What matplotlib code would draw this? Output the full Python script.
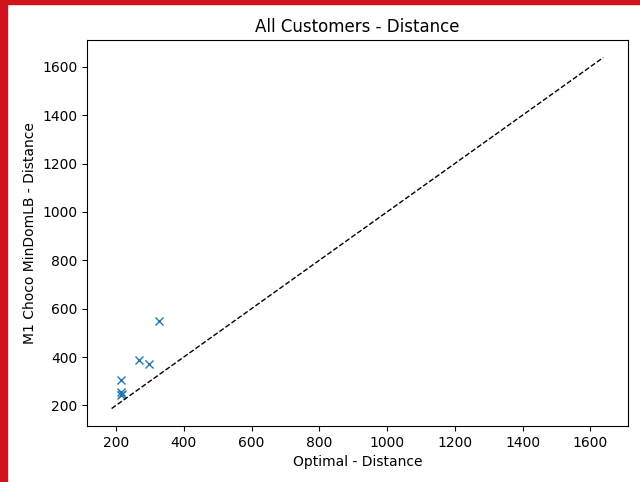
import matplotlib
matplotlib.use("Agg")
import matplotlib.pyplot as plt
from matplotlib.patches import Rectangle

# distances
optimal = [327, 268, 297, 215, 216, 217, 216]
choco = [547, 386, 373, 303, 254, 247, 241]
diag = [187, 1638]

fig = plt.figure(figsize=(6.4, 4.82), dpi=100)
ax = fig.add_axes([0.136, 0.116, 0.845, 0.801])

ax.plot(optimal, choco, 'x', color='tab:blue', markersize=6, markeredgewidth=1)
ax.plot(diag, diag, 'k--', linewidth=1)

ax.set_title("All Customers - Distance")
ax.set_xlabel("Optimal - Distance")
ax.set_ylabel("M1 Choco MinDomLB - Distance")

# red frame at the left and top edges of the screenshot
fig.patches.append(Rectangle((0, 0), 7 / 640, 1, transform=fig.transFigure,
                             color='#d0141c', zorder=10))
fig.patches.append(Rectangle((0, 1 - 4 / 482), 1, 4 / 482, transform=fig.transFigure,
                             color='#d0141c', zorder=10))

fig.savefig("out.png", dpi=100)
